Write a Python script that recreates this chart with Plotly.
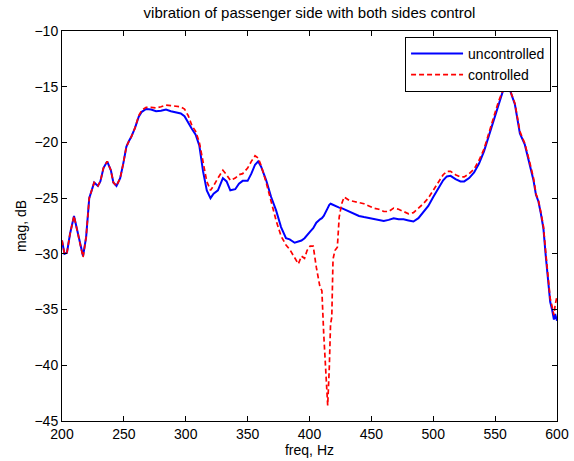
import plotly.graph_objects as go

freq = [200, 202, 204, 206.5, 209.7, 213, 217, 219.5, 222, 224, 226, 229, 231, 233.5, 236.5, 239.5,
        241.5, 244, 247, 249.5, 252, 254, 256, 259, 262, 264.5, 268, 272, 276, 280, 284, 288, 292,
        296, 299, 302, 305, 308, 311, 314, 317, 320, 322.5, 326, 330, 333, 336, 340, 343, 346, 350,
        353, 356, 358.5, 361, 365, 369, 373, 377, 381, 384, 388, 391, 393.5, 396, 398, 400.5, 403,
        405.5, 408.5, 410, 411.5, 413, 414.7, 416, 417, 418, 419, 420.5, 422.5, 424, 426, 428, 432,
        436, 440, 444, 448, 452, 456, 460, 464, 468, 472, 476, 480, 484, 488, 492, 496, 500, 504,
        508, 511, 514, 518, 522, 525, 529, 533, 537, 541, 545, 549, 552.5, 556, 559.3, 562, 566,
        570, 574, 578, 581, 583, 585, 587, 589, 591, 593, 594.5, 596, 597.5, 598.5, 600]

uncontrolled = [-28.8, -30.0, -29.9, -28.2, -26.6, -28.2, -30.2, -28.5, -25.0, -24.3, -23.6, -23.9,
                -23.5, -22.3, -21.7, -22.5, -23.6, -23.9, -23.2, -21.9, -20.4, -19.9, -19.5, -18.7,
                -17.7, -17.25, -17.0, -17.05, -17.2, -17.15, -17.05, -17.2, -17.3, -17.4, -17.65,
                -18.25, -18.8, -19.3, -20.3, -22.6, -24.3, -25.0, -24.6, -24.3, -23.2, -23.5, -24.3,
                -24.2, -23.7, -23.45, -23.45, -22.8, -22.0, -21.7, -22.2, -23.4, -24.9, -26.1, -27.6,
                -28.6, -28.7, -29.0, -28.9, -28.8, -28.6, -28.3, -28.0, -27.7, -27.2, -26.9, -26.8,
                -26.6, -26.2, -25.9, -25.6, -25.5, -25.55, -25.6, -25.7, -25.8, -25.85, -25.9, -26.0,
                -26.2, -26.4, -26.6, -26.7, -26.8, -26.9, -27.0, -27.05, -26.95, -26.8, -26.9, -26.9,
                -27.0, -27.1, -26.8, -26.2, -25.7, -24.9, -24.1, -23.4, -23.05, -23.0, -23.3, -23.5,
                -23.5, -23.2, -22.7, -21.9, -20.8, -19.4, -17.8, -16.6, -15.5, -14.95, -15.3, -16.6,
                -19.2, -20.2, -21.9, -23.4, -24.7, -25.3, -26.4, -27.7, -30.3, -32.6, -34.3, -35.0,
                -35.9, -35.4, -36.0]

controlled = [-28.8, -30.0, -29.9, -28.2, -26.6, -28.2, -30.3, -28.5, -25.0, -24.3, -23.6, -23.9,
              -23.5, -22.3, -21.7, -22.5, -23.6, -23.9, -23.2, -21.9, -20.4, -19.9, -19.5, -18.7,
              -17.6, -17.1, -16.85, -16.85, -16.9, -16.8, -16.65, -16.7, -16.75, -16.8, -17.0,
              -17.6, -18.5, -19.0, -20.0, -21.8, -23.5, -24.3, -23.9, -23.2, -22.5, -22.9, -23.4,
              -23.2, -22.9, -22.8, -22.3, -21.7, -21.2, -21.4, -22.1, -23.6, -25.3, -27.0, -28.4,
              -29.2, -29.6, -30.3, -30.9, -30.2, -30.4, -29.7, -29.3, -29.3, -31.2, -33.0, -33.3,
              -37.2, -40.0, -43.6, -40.2, -36.3, -35.7, -30.5, -29.7, -29.4, -26.7, -25.5, -24.9,
              -25.2, -25.3, -25.4, -25.5, -25.7, -25.9, -26.0, -26.2, -26.2, -25.9, -26.0, -26.2,
              -26.4, -26.3, -25.9, -25.5, -25.0, -24.3, -23.7, -22.9, -22.6, -22.6, -22.9, -23.1,
              -23.1, -22.8, -22.4, -21.6, -20.6, -19.2, -17.6, -16.4, -15.4, -14.95, -15.3, -16.5,
              -19.0, -20.1, -21.8, -23.2, -24.6, -25.2, -26.3, -27.5, -30.0, -32.3, -34.0, -34.7,
              -35.5, -34.6, -33.8]

x_ticks = [200, 250, 300, 350, 400, 450, 500, 550, 600]
y_ticks = [-45, -40, -35, -30, -25, -20, -15, -10]

fig = go.Figure()
fig.add_trace(go.Scatter(x=freq, y=uncontrolled, mode="lines", name="uncontrolled",
                         line=dict(color="#0000ff", width=2)))
fig.add_trace(go.Scatter(x=freq, y=controlled, mode="lines", name="controlled",
                         line=dict(color="#ff0000", width=1.7, dash="5px,3px")))

axis_common = dict(showline=True, linecolor="black", linewidth=1, mirror="ticks",
                   ticks="inside", ticklen=5, tickcolor="black", showgrid=False,
                   zeroline=False, automargin=False,
                   tickfont=dict(size=14, color="black"),
                   title_font=dict(size=14, color="black"))

fig.update_xaxes(range=[200, 600], tickvals=x_ticks, title_text="freq, Hz",
                 title_standoff=2, **axis_common)
fig.update_yaxes(range=[-45, -10], tickvals=y_ticks, title_text="mag, dB",
                 title_standoff=4, **axis_common)

fig.update_layout(
    width=574, height=461,
    margin=dict(l=62, r=17, t=31, b=40),
    paper_bgcolor="white", plot_bgcolor="white",
    font=dict(family="Liberation Sans, Arial, sans-serif", color="black", size=14),
    title=dict(text="vibration of passenger side with both sides control",
               x=0.5, xref="paper", xanchor="center",
               yref="container", y=0.972, yanchor="middle",
               font=dict(size=15, color="black")),
    legend=dict(x=0.988, y=0.985, xanchor="right", yanchor="top",
                bordercolor="black", borderwidth=1, bgcolor="white",
                font=dict(size=14, color="black"), tracegroupgap=0,
                itemwidth=52),
    showlegend=True,
)

fig.write_html("out.html", config={"displayModeBar": False},
               post_script="document.body.style.margin='0px';")
